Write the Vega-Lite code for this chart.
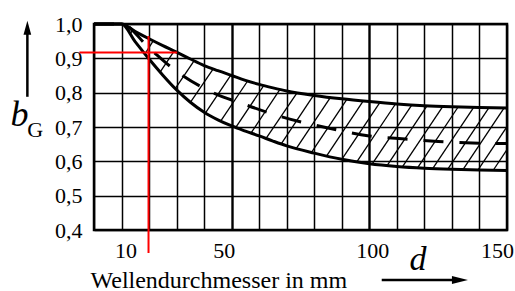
{
  "$schema": "https://vega.github.io/schema/vega-lite/v6.json",
  "width": 413,
  "height": 206,
  "autosize": {"type": "none"},
  "padding": {"left": 94, "top": 24, "right": 8, "bottom": 61},
  "background": "white",
  "config": {
    "font": "Times New Roman, Liberation Serif, serif",
    "axis": {"labelFont": "Times New Roman, Liberation Serif, serif", "titleFont": "Times New Roman, Liberation Serif, serif"},
    "text": {"font": "Times New Roman, Liberation Serif, serif"},
    "view": {"stroke": "black", "strokeWidth": 2.5}
  },
  "datasets": {
    "kurven": [
      {"kurve": "oben", "d": 0, "b": 1.0},
      {"kurve": "oben", "d": 10, "b": 1.0},
      {"kurve": "oben", "d": 15, "b": 0.978},
      {"kurve": "oben", "d": 20, "b": 0.957},
      {"kurve": "oben", "d": 25, "b": 0.937},
      {"kurve": "oben", "d": 30, "b": 0.918},
      {"kurve": "oben", "d": 35, "b": 0.898},
      {"kurve": "oben", "d": 40, "b": 0.879},
      {"kurve": "oben", "d": 45, "b": 0.864},
      {"kurve": "oben", "d": 50, "b": 0.850},
      {"kurve": "oben", "d": 55, "b": 0.836},
      {"kurve": "oben", "d": 60, "b": 0.824},
      {"kurve": "oben", "d": 65, "b": 0.814},
      {"kurve": "oben", "d": 70, "b": 0.805},
      {"kurve": "oben", "d": 80, "b": 0.792},
      {"kurve": "oben", "d": 90, "b": 0.782},
      {"kurve": "oben", "d": 100, "b": 0.774},
      {"kurve": "oben", "d": 110, "b": 0.767},
      {"kurve": "oben", "d": 120, "b": 0.762},
      {"kurve": "oben", "d": 130, "b": 0.759},
      {"kurve": "oben", "d": 140, "b": 0.757},
      {"kurve": "oben", "d": 150, "b": 0.755},
      {"kurve": "unten", "d": 0, "b": 1.0},
      {"kurve": "unten", "d": 10, "b": 1.0},
      {"kurve": "unten", "d": 15, "b": 0.948},
      {"kurve": "unten", "d": 20, "b": 0.898},
      {"kurve": "unten", "d": 25, "b": 0.851},
      {"kurve": "unten", "d": 30, "b": 0.808},
      {"kurve": "unten", "d": 35, "b": 0.772},
      {"kurve": "unten", "d": 40, "b": 0.743},
      {"kurve": "unten", "d": 45, "b": 0.721},
      {"kurve": "unten", "d": 50, "b": 0.703},
      {"kurve": "unten", "d": 55, "b": 0.688},
      {"kurve": "unten", "d": 60, "b": 0.674},
      {"kurve": "unten", "d": 65, "b": 0.659},
      {"kurve": "unten", "d": 70, "b": 0.645},
      {"kurve": "unten", "d": 80, "b": 0.624},
      {"kurve": "unten", "d": 90, "b": 0.606},
      {"kurve": "unten", "d": 100, "b": 0.593},
      {"kurve": "unten", "d": 110, "b": 0.585},
      {"kurve": "unten", "d": 120, "b": 0.580},
      {"kurve": "unten", "d": 130, "b": 0.577},
      {"kurve": "unten", "d": 140, "b": 0.575},
      {"kurve": "unten", "d": 150, "b": 0.573},
      {"kurve": "mitte", "d": 0, "b": 1.0},
      {"kurve": "mitte", "d": 10, "b": 1.0},
      {"kurve": "mitte", "d": 20, "b": 0.930},
      {"kurve": "mitte", "d": 30, "b": 0.862},
      {"kurve": "mitte", "d": 43, "b": 0.801},
      {"kurve": "mitte", "d": 55, "b": 0.765},
      {"kurve": "mitte", "d": 68, "b": 0.730},
      {"kurve": "mitte", "d": 85, "b": 0.697},
      {"kurve": "mitte", "d": 100, "b": 0.674},
      {"kurve": "mitte", "d": 113, "b": 0.665},
      {"kurve": "mitte", "d": 125, "b": 0.658},
      {"kurve": "mitte", "d": 135, "b": 0.654},
      {"kurve": "mitte", "d": 150, "b": 0.652}
    ],
    "schraffur": [
      {"d": 13, "b": 0.969, "d2": 14.0, "b2": 0.982},
      {"d": 18.5, "b": 0.913, "d2": 21.5, "b2": 0.951},
      {"d": 24, "b": 0.860, "d2": 29.1, "b2": 0.921},
      {"d": 29.5, "b": 0.812, "d2": 36.4, "b2": 0.893},
      {"d": 35, "b": 0.772, "d2": 43.3, "b2": 0.869},
      {"d": 40.5, "b": 0.741, "d2": 49.7, "b2": 0.851},
      {"d": 46, "b": 0.717, "d2": 55.8, "b2": 0.834},
      {"d": 51.5, "b": 0.699, "d2": 61.7, "b2": 0.821},
      {"d": 57, "b": 0.682, "d2": 67.6, "b2": 0.810},
      {"d": 62.5, "b": 0.667, "d2": 73.8, "b2": 0.800},
      {"d": 68, "b": 0.651, "d2": 79.9, "b2": 0.794},
      {"d": 73.5, "b": 0.638, "d2": 86.0, "b2": 0.788},
      {"d": 79, "b": 0.626, "d2": 91.9, "b2": 0.781},
      {"d": 84.5, "b": 0.616, "d2": 97.8, "b2": 0.776},
      {"d": 90, "b": 0.606, "d2": 103.8, "b2": 0.771},
      {"d": 95.5, "b": 0.599, "d2": 109.5, "b2": 0.767},
      {"d": 101, "b": 0.592, "d2": 115.4, "b2": 0.764},
      {"d": 106.5, "b": 0.588, "d2": 121.0, "b2": 0.762},
      {"d": 112, "b": 0.584, "d2": 126.7, "b2": 0.760},
      {"d": 117.5, "b": 0.581, "d2": 132.3, "b2": 0.759},
      {"d": 123, "b": 0.579, "d2": 137.9, "b2": 0.757},
      {"d": 128.5, "b": 0.5775, "d2": 143.4, "b2": 0.756},
      {"d": 134, "b": 0.576, "d2": 148.9, "b2": 0.755},
      {"d": 139.5, "b": 0.575, "d2": 150, "b2": 0.701},
      {"d": 145, "b": 0.574, "d2": 150, "b2": 0.634}
    ],
    "ablesung": [
      {"linie": "waagerecht", "d": -5.3, "b": 0.917, "d2": 30.2, "b2": 0.917},
      {"linie": "senkrecht", "d": 19.8, "b": 0.965, "d2": 19.8, "b2": 0.333}
    ],
    "pfeilschaefte": [
      {"pfeil": "b", "d": -24.2, "b": 0.788, "d2": -24.2, "b2": 0.980},
      {"pfeil": "d", "d": 104.5, "b": 0.2544, "d2": 131.5, "b2": 0.2544}
    ],
    "pfeilspitzen": [
      {"pfeil": "b", "d": -24.2, "b": 0.989},
      {"pfeil": "d", "d": 132.9, "b": 0.2544}
    ],
    "beschriftung": [
      {"teil": "G", "d": -24.2, "b": 0.671},
      {"teil": "d", "d": 117.7, "b": 0.2834}
    ]
  },
  "encoding": {
    "x": {
      "field": "d",
      "type": "quantitative",
      "scale": {"domain": [0, 150], "nice": false, "zero": false},
      "axis": {
        "values": [0, 10, 20, 30, 40, 50, 60, 70, 80, 90, 100, 110, 120, 130, 140, 150],
        "labelExpr": "datum.value == 10 || datum.value == 50 || datum.value == 100 || datum.value == 150 ? datum.label : ''",
        "labelFont": "Times New Roman, Liberation Serif, serif",
        "labelFontSize": 22,
        "labelColor": "black",
        "labelPadding": 10,
        "labelFlush": false,
        "labelOverlap": false,
        "labelBound": false,
        "labelOffset": {"expr": "datum.value == 10 ? 4 : datum.value == 50 ? -8 : datum.value == 100 ? 3 : datum.value == 150 ? -10 : 0"},
        "ticks": false,
        "domain": false,
        "grid": true,
        "gridColor": "black",
        "gridOpacity": 1,
        "gridWidth": {"expr": "datum.value == 50 || datum.value == 100 ? 2.4 : 1.5"},
        "title": "Wellendurchmesser in mm",
        "titleFont": "Times New Roman, Liberation Serif, serif",
        "titleFontSize": 24,
        "titleFontWeight": "normal",
        "titleColor": "black",
        "titleX": -4,
        "titleY": 57,
        "titleAlign": "left",
        "titleAnchor": "start",
        "titleBaseline": "alphabetic"
      }
    },
    "y": {
      "field": "b",
      "type": "quantitative",
      "scale": {"domain": [0.4, 1.0], "nice": false, "zero": false},
      "axis": {
        "values": [0.4, 0.5, 0.6, 0.7, 0.8, 0.9, 1.0],
        "labelExpr": "replace(format(datum.value, '.1f'), '.', ',')",
        "labelFont": "Times New Roman, Liberation Serif, serif",
        "labelFontSize": 22,
        "labelColor": "black",
        "labelPadding": 12,
        "labelFlush": false,
        "labelOverlap": false,
        "labelBound": false,
        "ticks": false,
        "domain": false,
        "grid": true,
        "gridColor": "black",
        "gridOpacity": 1,
        "gridWidth": 1.5,
        "title": "b",
        "titleFont": "Times New Roman, Liberation Serif, serif",
        "titleFontSize": 36,
        "titleFontStyle": "italic",
        "titleFontWeight": "normal",
        "titleColor": "black",
        "titleAngle": 0,
        "titleX": -84,
        "titleY": 101,
        "titleAlign": "left",
        "titleBaseline": "alphabetic"
      }
    }
  },
  "layer": [
    {
      "data": {"name": "schraffur"},
      "mark": {"type": "rule", "color": "black", "strokeWidth": 1.3, "clip": false},
      "encoding": {"x2": {"field": "d2"}, "y2": {"field": "b2"}}
    },
    {
      "data": {"name": "kurven"},
      "transform": [{"filter": "datum.kurve != 'mitte'"}],
      "mark": {"type": "line", "color": "black", "strokeWidth": 3, "interpolate": "monotone", "clip": false},
      "encoding": {"detail": {"field": "kurve", "type": "nominal"}}
    },
    {
      "data": {"name": "kurven"},
      "transform": [{"filter": "datum.kurve == 'mitte'"}],
      "mark": {"type": "line", "color": "black", "strokeWidth": 3, "strokeDash": [20, 16], "interpolate": "monotone", "clip": false},
      "encoding": {}
    },
    {
      "data": {"name": "ablesung"},
      "mark": {"type": "rule", "color": "#ff0000", "strokeWidth": 2, "clip": false},
      "encoding": {"x2": {"field": "d2"}, "y2": {"field": "b2"}}
    },
    {
      "data": {"name": "pfeilschaefte"},
      "mark": {"type": "rule", "color": "black", "strokeWidth": 2.5, "clip": false},
      "encoding": {"x2": {"field": "d2"}, "y2": {"field": "b2"}}
    },
    {
      "data": {"name": "pfeilspitzen"},
      "transform": [{"filter": "datum.pfeil == 'b'"}],
      "mark": {"type": "point", "shape": "M0,-1L0.55,1L-0.55,1Z", "filled": true, "color": "black", "opacity": 1, "size": 196, "strokeWidth": 0, "clip": false},
      "encoding": {}
    },
    {
      "data": {"name": "pfeilspitzen"},
      "transform": [{"filter": "datum.pfeil == 'd'"}],
      "mark": {"type": "point", "shape": "M1,0L-1,0.5L-1,-0.5Z", "filled": true, "color": "black", "opacity": 1, "size": 256, "strokeWidth": 0, "clip": false},
      "encoding": {}
    },
    {
      "data": {"name": "beschriftung"},
      "transform": [{"filter": "datum.teil == 'G'"}],
      "mark": {"type": "text", "font": "Times New Roman, Liberation Serif, serif", "align": "left", "baseline": "alphabetic", "fontSize": 22, "color": "black", "clip": false},
      "encoding": {"text": {"field": "teil"}}
    },
    {
      "data": {"name": "beschriftung"},
      "transform": [{"filter": "datum.teil == 'd'"}],
      "mark": {"type": "text", "font": "Times New Roman, Liberation Serif, serif", "align": "center", "baseline": "alphabetic", "fontSize": 34, "fontStyle": "italic", "color": "black", "clip": false},
      "encoding": {"text": {"field": "teil"}}
    }
  ]
}
